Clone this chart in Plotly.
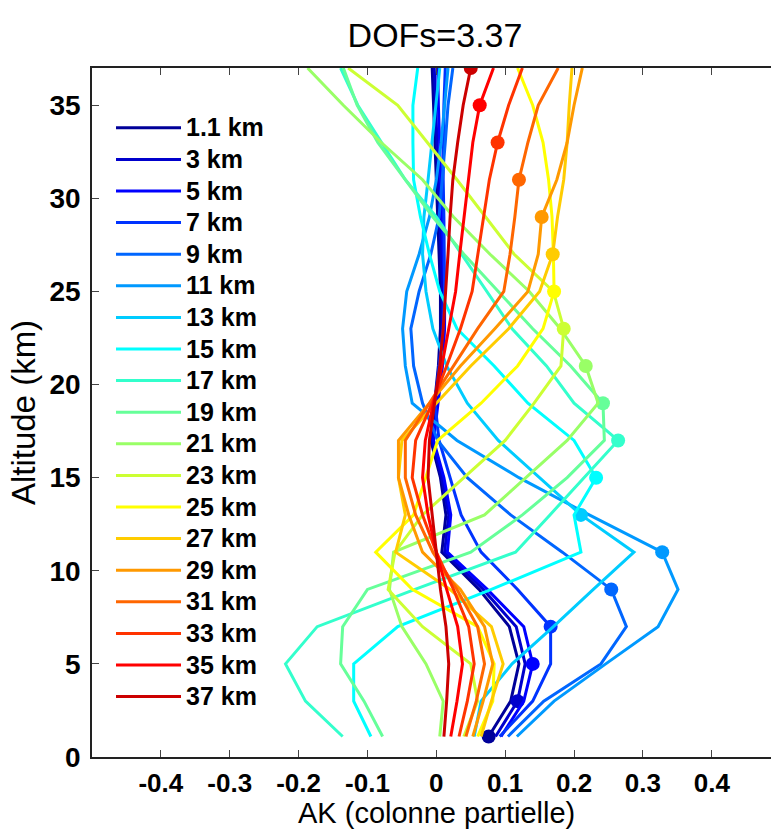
import plotly.graph_objects as go

# ---------------- data ----------------
altitudes = [1.1, 3, 5, 7, 9, 11, 13, 15, 17, 19, 21, 23, 25, 27, 29, 31, 33, 35, 37]
kernel_labels = ["1.1 km", "3 km", "5 km", "7 km", "9 km", "11 km", "13 km", "15 km", "17 km",
                 "19 km", "21 km", "23 km", "25 km", "27 km", "29 km", "31 km", "33 km", "35 km", "37 km"]

ak_01 = [0.076, 0.108, 0.120, 0.106, 0.062, 0.008, 0.014, 0.006, -0.008, -0.002, 0.003, 0.006, 0.006, 0.004, 0.002, 0.000, -0.002, -0.004, -0.006]
ak_03 = [0.086, 0.118, 0.129, 0.116, 0.068, 0.012, 0.018, 0.008, -0.006, 0.000, 0.006, 0.009, 0.009, 0.007, 0.005, 0.003, 0.001, -0.001, -0.003]
ak_05 = [0.094, 0.127, 0.140, 0.127, 0.074, 0.016, 0.021, 0.011, -0.004, 0.002, 0.009, 0.012, 0.012, 0.010, 0.008, 0.006, 0.004, 0.003, 0.002]
ak_07 = [0.092, 0.140, 0.166, 0.166, 0.118, 0.065, 0.036, 0.020, 0.004, -0.002, 0.004, 0.010, 0.012, 0.012, 0.011, 0.010, 0.010, 0.011, 0.013]
ak_09 = [0.104, 0.156, 0.239, 0.276, 0.254, 0.183, 0.108, 0.045, 0.002, -0.020, -0.033, -0.037, -0.025, -0.008, 0.004, 0.009, 0.013, 0.017, 0.024]
ak_11 = [0.117, 0.171, 0.246, 0.322, 0.351, 0.328, 0.222, 0.120, 0.030, -0.035, -0.045, -0.049, -0.043, -0.025, -0.010, 0.000, 0.007, 0.012, 0.017]
ak_13 = [0.055, 0.065, 0.110, 0.170, 0.228, 0.287, 0.210, 0.150, 0.090, 0.045, 0.015, -0.005, -0.015, -0.020, -0.018, -0.012, -0.006, 0.000, 0.005]
ak_15 = [-0.095, -0.120, -0.120, -0.056, 0.080, 0.210, 0.200, 0.232, 0.200, 0.133, 0.084, 0.030, 0.005, -0.010, -0.023, -0.033, -0.034, -0.034, -0.027]
ak_17 = [-0.136, -0.190, -0.219, -0.173, -0.031, 0.115, 0.165, 0.214, 0.264, 0.200, 0.160, 0.110, 0.073, 0.036, 0.000, -0.045, -0.080, -0.114, -0.139]
ak_19 = [-0.078, -0.105, -0.139, -0.136, -0.100, 0.050, 0.125, 0.190, 0.244, 0.242, 0.195, 0.140, 0.090, 0.040, -0.005, -0.045, -0.085, -0.115, -0.135]
ak_21 = [0.005, 0.010, -0.015, -0.050, -0.068, -0.062, 0.070, 0.130, 0.190, 0.235, 0.217, 0.180, 0.135, 0.078, 0.025, -0.020, -0.080, -0.135, -0.187]
ak_23 = [0.040, 0.060, 0.050, -0.020, -0.070, -0.060, -0.020, 0.040, 0.100, 0.142, 0.181, 0.185, 0.170, 0.113, 0.072, 0.030, -0.013, -0.056, -0.128]
ak_25 = [0.060, 0.082, 0.084, 0.060, -0.035, -0.088, -0.033, -0.015, 0.002, 0.065, 0.118, 0.155, 0.171, 0.170, 0.168, 0.163, 0.155, 0.140, 0.118]
ak_27 = [0.065, 0.080, 0.097, 0.080, 0.020, -0.059, -0.045, -0.055, -0.050, 0.000, 0.050, 0.105, 0.150, 0.169, 0.176, 0.185, 0.190, 0.193, 0.197]
ak_29 = [0.053, 0.068, 0.082, 0.070, 0.035, -0.020, -0.040, -0.055, -0.055, -0.010, 0.035, 0.085, 0.133, 0.148, 0.153, 0.175, 0.190, 0.200, 0.212]
ak_31 = [0.043, 0.058, 0.070, 0.060, 0.030, -0.005, -0.030, -0.045, -0.045, -0.010, 0.025, 0.060, 0.098, 0.107, 0.114, 0.120, 0.133, 0.148, 0.177]
ak_33 = [0.033, 0.045, 0.055, 0.047, 0.025, 0.000, -0.020, -0.035, -0.030, -0.006, 0.015, 0.035, 0.052, 0.060, 0.068, 0.077, 0.089, 0.105, 0.125]
ak_35 = [0.021, 0.030, 0.038, 0.031, 0.015, 0.000, -0.012, -0.020, -0.016, -0.004, 0.008, 0.018, 0.028, 0.034, 0.040, 0.046, 0.053, 0.063, 0.083]
ak_37 = [0.011, 0.015, 0.018, 0.014, 0.006, 0.000, -0.006, -0.012, -0.010, -0.002, 0.005, 0.010, 0.014, 0.017, 0.020, 0.024, 0.031, 0.039, 0.050]

kernels = [ak_01, ak_03, ak_05, ak_07, ak_09, ak_11, ak_13, ak_15, ak_17, ak_19,
           ak_21, ak_23, ak_25, ak_27, ak_29, ak_31, ak_33, ak_35, ak_37]

# jet colormap, 19 levels
jet_colors = [
    "rgb(0,0,153)", "rgb(0,0,204)", "rgb(0,0,255)", "rgb(0,51,255)", "rgb(0,102,255)",
    "rgb(0,153,255)", "rgb(0,204,255)", "rgb(0,255,255)", "rgb(51,255,204)", "rgb(102,255,153)",
    "rgb(153,255,102)", "rgb(204,255,51)", "rgb(255,255,0)", "rgb(255,204,0)", "rgb(255,153,0)",
    "rgb(255,102,0)", "rgb(255,51,0)", "rgb(255,0,0)", "rgb(204,0,0)",
]

title_text = "DOFs=3.37"
x_title = "AK (colonne partielle)"
y_title = "Altitude (km)"

# ---------------- figure ----------------
FONT = "Arial, Liberation Sans, Helvetica, sans-serif"
fig = go.Figure()

for i, (lab, ak, col) in enumerate(zip(kernel_labels, kernels, jet_colors)):
    fig.add_trace(go.Scatter(
        x=ak, y=altitudes, mode="lines", name='<span style="font-size:25px">' + lab + '</span>',
        line=dict(color=col, width=3), showlegend=True,
    ))
    fig.add_trace(go.Scatter(
        x=[ak[i]], y=[altitudes[i]], mode="markers", showlegend=False,
        marker=dict(color=col, size=14, line=dict(width=0)),
    ))

fig.update_layout(
    width=771, height=830,
    margin=dict(l=92, r=0, t=68, b=73),
    paper_bgcolor="white", plot_bgcolor="white",
    font=dict(family=FONT, color="black"),
    title=dict(text=title_text, x=435 / 771, xanchor="center", y=1 - 35 / 830, yanchor="middle",
               font=dict(size=34, family=FONT, color="black")),
    legend=dict(x=(111 - 92) / 679, y=1 - (107 - 68) / 689, xanchor="left", yanchor="top",
                bgcolor="rgba(255,255,255,0)", borderwidth=0, itemwidth=65,
                font=dict(size=22, family=FONT, color="black", weight="bold"),
                tracegroupgap=0),
    showlegend=True,
    annotations=[dict(text=x_title, xref="x", x=0, yref="paper", y=-(830 - 757) / 689,
                      xanchor="center", yanchor="bottom", showarrow=False, borderpad=0,
                      font=dict(size=29, family=FONT, color="black"))],
)

fig.update_xaxes(
    range=[-0.5, 0.486], tickvals=[-0.4, -0.3, -0.2, -0.1, 0, 0.1, 0.2, 0.3, 0.4],
    ticktext=["-0.4", "-0.3", "-0.2", "-0.1", "0", "0.1", "0.2", "0.3", "0.4"],
    ticks="inside", ticklen=7, tickcolor="#444", tickwidth=1,
    showline=True, linecolor="#222", linewidth=1.5, mirror="ticks",
    showgrid=False, zeroline=False, automargin=False,
    tickfont=dict(size=26, family=FONT, color="black", weight="bold"),
    ticklabelstandoff=2,
)
fig.update_yaxes(
    range=[0, 37], tickvals=[0, 5, 10, 15, 20, 25, 30, 35],
    ticks="inside", ticklen=7, tickcolor="#444", tickwidth=1,
    showline=True, linecolor="#222", linewidth=1.5, mirror=False,
    showgrid=False, zeroline=False, automargin=False,
    tickfont=dict(size=28, family=FONT, color="black", weight="bold"),
    ticklabelstandoff=4,
    title=dict(text=y_title, font=dict(size=33, family=FONT, color="black"), standoff=4),
)

fig.write_html("out.html", config={"displayModeBar": False},
               post_script="document.body.style.margin='0px';document.body.style.padding='0px';")
